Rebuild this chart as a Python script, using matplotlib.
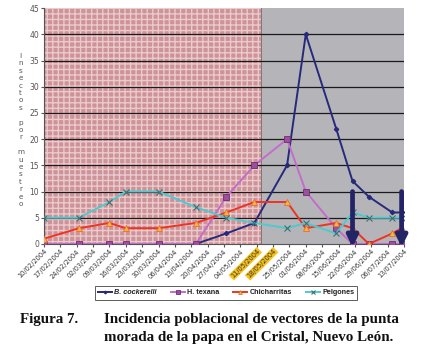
import datetime as dt
import matplotlib
matplotlib.use("Agg")
import matplotlib.pyplot as plt
import matplotlib.dates as mdates

# ---------- data ----------
fechas = ["10/02/2004", "25/02/2004", "09/03/2004", "16/03/2004", "30/03/2004",
          "15/04/2004", "28/04/2004", "10/05/2004", "24/05/2004", "01/06/2004",
          "14/06/2004", "21/06/2004", "28/06/2004", "08/07/2004", "12/07/2004"]
b_cockerelli = [0, 0, 0, 0, 0, 0, 2, 4, 15, 40, 22, 12, 9, 6, 6]
h_texana = [0, 0, 0, 0, 0, 0, 9, 15, 20, 10, 3, 0, 0, 0, 0]
chicharritas = [1, 3, 4, 3, 3, 4, 6, 8, 8, 3, 4, 3, 0, 2, 3]
pelgones = [5, 5, 8, 10, 10, 7, 5, 4, 3, 4, 2, 6, 5, 5, 5]

inicio, fin = "10/02/2004", "13/07/2004"
cambio = "13/05/2004"          # end of the hatched period
resaltadas = ["11/05/2004", "18/05/2004"]
flechas = ["21/06/2004", "12/07/2004"]

titulo = "Figura 7."
linea1 = "Incidencia poblacional de vectores de la punta"
linea2 = "morada de la papa en el Cristal, Nuevo León."


def d(s):
    return dt.datetime.strptime(s, "%d/%m/%Y")


x = [d(f) for f in fechas]
W, H = 421, 353

# ---------- canvas ----------
fig = plt.figure(figsize=(W / 100, H / 100), dpi=100)
ax = fig.add_axes([0.1045, 0.309, 0.855, 0.668])
ax.set_xlim(d(inicio), d(fin))
ax.set_ylim(0, 45)

ax.axvspan(d(inicio), d(cambio), facecolor="#cd9398", edgecolor="#eacacc",
           hatch="+++", lw=0, zorder=0)
ax.axvspan(d(cambio), d(fin), facecolor="#b5b5b9", lw=0, zorder=0)
ax.axvline(d(cambio), color="#7a6a6a", lw=0.6, zorder=1)

for v in range(5, 45, 5):
    ax.axhline(v, color="#1a1a1a", lw=0.9, zorder=1)

# ---------- series ----------
ax.plot(x, b_cockerelli, color="#27297a", lw=1.4, marker="D", ms=2.2,
        mfc="#27297a", mec="#27297a", label="B. cockerelli", zorder=3)
ax.plot(x, h_texana, color="#c46ccb", lw=1.4, marker="s", ms=5,
        mfc="#9b4f9d", mec="#6e2f70", mew=0.6, label="H. texana", zorder=4)
ax.plot(x, chicharritas, color="#ee3324", lw=1.4, marker="^", ms=4.5,
        mfc="#f5b54a", mec="#e8702a", mew=0.6, label="Chicharritas", zorder=5)
ax.plot(x, pelgones, color="#4ccad0", lw=1.4, marker="x", ms=4,
        mec="#3f6e70", mew=0.8, label="Pelgones", zorder=6)

for f in flechas:
    ax.annotate("", xy=(d(f), -0.6), xytext=(d(f), 10),
                arrowprops=dict(arrowstyle="-|>", lw=3.4, color="#222466",
                                mutation_scale=16, shrinkA=0, shrinkB=0),
                zorder=7, annotation_clip=False)

# ---------- axes ----------
for s in ["top", "right"]:
    ax.spines[s].set_visible(False)
for s in ["left", "bottom"]:
    ax.spines[s].set_color("#555555")
    ax.spines[s].set_linewidth(0.8)

ax.set_yticks(range(0, 46, 5))
ax.tick_params(axis="y", labelsize=5.5, labelcolor="#555555", length=2,
               color="#555555", pad=1.5)

ticks = mdates.drange(d(inicio), d(fin) + dt.timedelta(days=1),
                      dt.timedelta(days=7))
ax.set_xticks(ticks)
ax.xaxis.set_major_formatter(mdates.DateFormatter("%d/%m/%Y"))
ax.tick_params(axis="x", labelsize=4.8, labelcolor="#333333", length=2,
               color="#555555", pad=1)
for lab in ax.get_xticklabels():
    lab.set_rotation(45)
    lab.set_ha("right")
    lab.set_rotation_mode("anchor")
    if lab.get_text() in resaltadas:
        lab.set_bbox(dict(facecolor="#f6c21c", edgecolor="none", pad=0.6))

fig.text(0.049, 0.632, "\n".join(list("Insectos por muestreo")),
         fontsize=5.2, color="#555555", ha="center", va="center",
         linespacing=1.28)

leg = fig.legend(loc="upper center", bbox_to_anchor=(0.537, 0.2), ncol=4,
                 prop=dict(family="Liberation Sans", weight="bold", size=5.2),
                 frameon=True, fancybox=False, edgecolor="#333333",
                 handlelength=1.9, handletextpad=0.3, columnspacing=2.0,
                 borderpad=0.45, markerscale=0.6)
leg.get_frame().set_linewidth(0.7)
for t in leg.get_texts():
    t.set_color("#222222")
leg.get_texts()[0].set_style("italic")

# ---------- caption ----------
cap = dict(fontsize=10.8, fontweight="bold", family="Liberation Serif",
           color="#111111", va="baseline", ha="left")
y1, y2 = 1 - 323 / H, 1 - 341 / H
fig.text(20 / W, y1, titulo, **cap)
fig.text(104 / W, y1, linea1, **cap)
fig.text(104 / W, y2, linea2, **cap)

fig.savefig("out.png", dpi=100)
